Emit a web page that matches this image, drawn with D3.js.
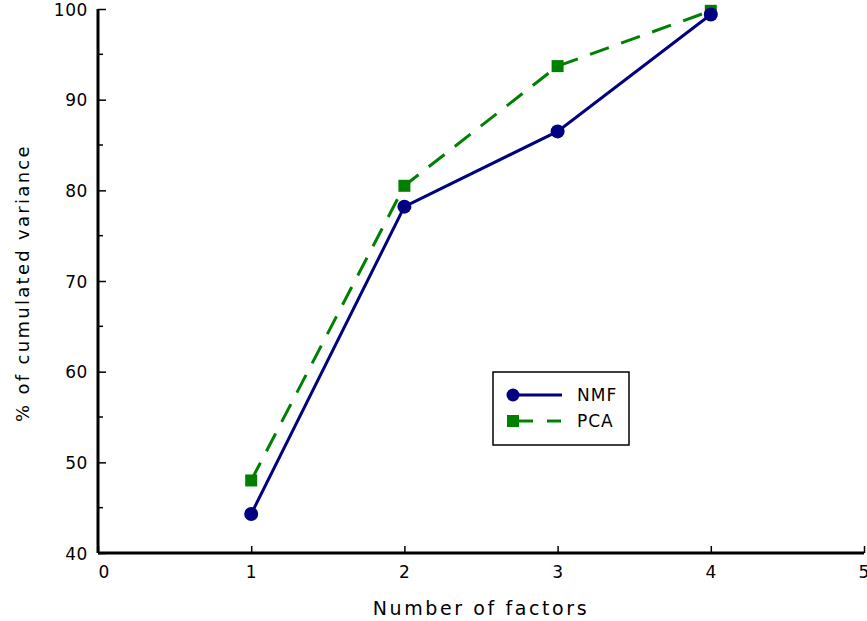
<!DOCTYPE html>
<html>
<head>
<meta charset="utf-8">
<script src="https://cdn.jsdelivr.net/npm/d3@7"></script>
<style>
  html, body { margin: 0; padding: 0; background: #fff; }
  svg text { font-family: "DejaVu Sans", sans-serif; fill: #000; }
</style>
</head>
<body>
<svg id="chart" width="867" height="621"></svg>
<script>
// Cumulated variance explained by number of factors
const factors = [1, 2, 3, 4];
const nmfValues = [44.3, 78.2, 86.5, 99.4];
const pcaValues = [48.0, 80.5, 93.7, 99.8];
const xTicks = [0, 1, 2, 3, 4, 5];
const yTicks = [40, 50, 60, 70, 80, 90, 100];
const yMinorTicks = [45, 55, 65, 75, 85, 95];
const seriesNames = ["NMF", "PCA"];

const svg = d3.select("#chart");
const x = d3.scaleLinear().domain([0, 5]).range([98, 864]);
const y = d3.scaleLinear().domain([40, 100]).range([553, 9]);

const NAVY = "#000080", GREEN = "#008000";

// Axes: ticks point into the plot
const xAxis = d3.axisTop(x).tickValues(xTicks).tickSize(7).tickFormat(d3.format("d"));
const gx = svg.append("g").attr("transform", `translate(0,${y(40)})`).call(xAxis);
gx.select(".domain").attr("stroke", "#000").attr("stroke-width", 3).attr("d", `M${x(0)},0H${x(5)}`);
gx.selectAll(".tick line").attr("stroke", "#000").attr("stroke-width", 1.5);
gx.selectAll(".tick text")
  .attr("y", 25).attr("dy", 0)
  .attr("dx", d => d === 0 ? 6 : 0)
  .style("font-size", "17px").style("letter-spacing", "1px");

const yAxis = d3.axisRight(y).tickValues(yTicks).tickSize(8).tickFormat(d3.format("d"));
const gy = svg.append("g").attr("transform", `translate(${x(0)},0)`).call(yAxis);
gy.select(".domain").attr("stroke", "#000").attr("stroke-width", 3).attr("d", `M0,${y(40)}V${y(100)}`);
gy.selectAll(".tick line").attr("stroke", "#000").attr("stroke-width", 1.5);
gy.selectAll(".tick text")
  .attr("x", -10).attr("dy", "0.36em")
  .attr("text-anchor", "end")
  .style("font-size", "17px").style("letter-spacing", "0.6px");

// Minor y ticks
svg.append("g").selectAll("line").data(yMinorTicks).join("line")
  .attr("x1", x(0)).attr("x2", x(0) + 5)
  .attr("y1", d => y(d)).attr("y2", d => y(d))
  .attr("stroke", "#000").attr("stroke-width", 1.5);

// Axis titles
svg.append("text")
  .attr("x", 481).attr("y", 615)
  .attr("text-anchor", "middle")
  .style("font-size", "19px").style("letter-spacing", "2.6px")
  .text("Number of factors");

svg.append("text")
  .attr("transform", `translate(29,283) rotate(-90)`)
  .attr("text-anchor", "middle")
  .style("font-size", "18px").style("letter-spacing", "2.3px")
  .text("% of cumulated variance");

// Series lines
const line = d3.line().x(d => x(d[0])).y(d => y(d[1]));
const nmfPts = factors.map((f, i) => [f, nmfValues[i]]);
const pcaPts = factors.map((f, i) => [f, pcaValues[i]]);

svg.append("path").datum(pcaPts).attr("d", line)
  .attr("fill", "none").attr("stroke", GREEN).attr("stroke-width", 3)
  .attr("stroke-dasharray", "20,13");
svg.append("g").selectAll("rect").data(pcaPts).join("rect")
  .attr("x", d => x(d[0]) - 6).attr("y", d => y(d[1]) - 6)
  .attr("width", 12).attr("height", 12).attr("fill", GREEN);

svg.append("path").datum(nmfPts).attr("d", line)
  .attr("fill", "none").attr("stroke", NAVY).attr("stroke-width", 3);
svg.append("g").selectAll("circle").data(nmfPts).join("circle")
  .attr("cx", d => x(d[0])).attr("cy", d => y(d[1])).attr("r", 7)
  .attr("fill", NAVY);

// Legend
const lg = svg.append("g").attr("transform", "translate(493,372)");
lg.append("rect").attr("width", 136).attr("height", 73)
  .attr("fill", "#fff").attr("stroke", "#000").attr("stroke-width", 1.5);
lg.append("line").attr("x1", 20).attr("x2", 69).attr("y1", 23).attr("y2", 23)
  .attr("stroke", NAVY).attr("stroke-width", 3);
lg.append("circle").attr("cx", 20).attr("cy", 23).attr("r", 6.5).attr("fill", NAVY);
lg.append("line").attr("x1", 20).attr("x2", 68).attr("y1", 49).attr("y2", 49)
  .attr("stroke", GREEN).attr("stroke-width", 3).attr("stroke-dasharray", "20,14");
lg.append("rect").attr("x", 14).attr("y", 43).attr("width", 12).attr("height", 12).attr("fill", GREEN);
lg.selectAll("text.lbl").data(seriesNames).join("text").attr("class", "lbl")
  .attr("x", 84).attr("y", (d, i) => 23 + i * 26).attr("dy", "0.36em")
  .style("font-size", "17px").style("letter-spacing", "1px")
  .text(d => d);
</script>
</body>
</html>
